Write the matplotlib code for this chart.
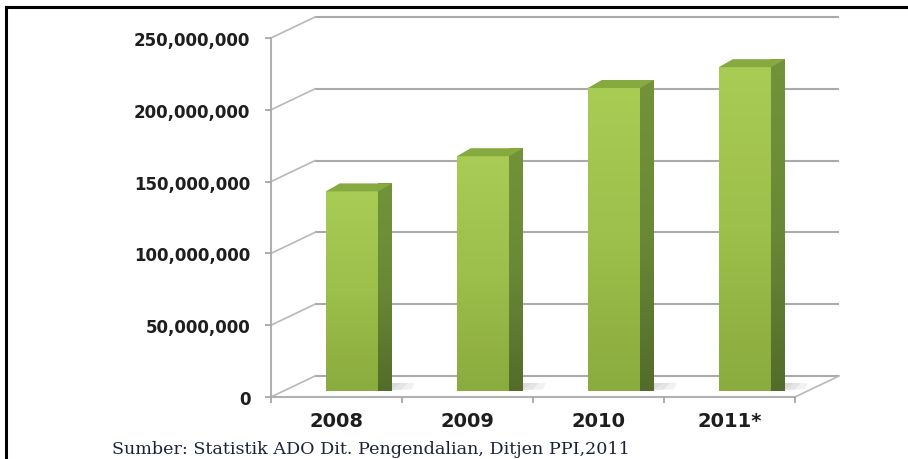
import numpy as np
import matplotlib.pyplot as plt
from matplotlib.patches import Polygon
from matplotlib.lines import Line2D
from matplotlib.colors import LinearSegmentedColormap

# data
years = ['2008', '2009', '2010', '2011*']
ado = [139.0e6, 163.5e6, 211.0e6, 225.5e6]
yticks = [0, 50e6, 100e6, 150e6, 200e6, 250e6]
ylabels = ['0', '50,000,000', '100,000,000', '150,000,000', '200,000,000', '250,000,000']
source = 'Sumber: Statistik ADO Dit. Pengendalian, Ditjen PPI,2011'

W, H = 908, 460
fig = plt.figure(figsize=(W / 100, H / 100), dpi=100)
AX_W, AX_H = 524, 359
ax = fig.add_axes([271 / W, 1 - 398 / H, AX_W / W, AX_H / H])
ax.set_xlim(-0.5, len(years) - 0.5)
ax.set_ylim(0, 250e6)


def px(dx, dy):
    # pixel offset -> data offset
    xl, yl = ax.get_xlim(), ax.get_ylim()
    return dx * (xl[1] - xl[0]) / AX_W, dy * (yl[1] - yl[0]) / AX_H


x_lo, x_hi = ax.get_xlim()
wall = px(44, 21)
grid_c = '#aaaaaa'
for v in yticks:
    # back wall
    ax.plot([x_lo + wall[0], x_hi + wall[0]], [v + wall[1]] * 2, color=grid_c,
            lw=1.5, clip_on=False, zorder=1, solid_capstyle='butt')
    # side wall
    ax.plot([x_lo, x_lo + wall[0]], [v, v + wall[1]], color='#b8b8b8',
            lw=1.2, clip_on=False, zorder=1)
# floor right edge
ax.plot([x_hi, x_hi + wall[0]], [0, wall[1]], color='#b8b8b8', lw=1.2,
        clip_on=False, zorder=1)

front_cm = LinearSegmentedColormap.from_list('f', ['#8aab3e', '#9dbf4b', '#a9cc55'])
side_cm = LinearSegmentedColormap.from_list('s', ['#536c2b', '#6a8936', '#729339'])
grad = np.linspace(0, 1, 128).reshape(-1, 1)

bw = 0.4
shift = px(15.5, 6)
depth = px(14, 8)
for i, v in enumerate(ado):
    x0 = i - bw / 2 + shift[0]
    x1 = x0 + bw
    y0 = shift[1]
    y1 = v + shift[1]
    # soft floor shadow
    for k, a in [(1.0, 0.25), (0.7, 0.3), (0.4, 0.35)]:
        sh = Polygon([(x1, y0), (x1 + depth[0] * 2.4 * k, y0 + depth[1] * 0.2),
                      (x1 + depth[0] * (1 + 1.6 * k), y0 + depth[1]), (x1, y0 + depth[1])],
                     closed=True, facecolor='#c8c8c8', edgecolor='none', alpha=a,
                     zorder=2, clip_on=False)
        ax.add_patch(sh)
    front = Polygon([(x0, y0), (x1, y0), (x1, y1), (x0, y1)], closed=True,
                    facecolor='none', edgecolor='none', clip_on=False)
    ax.add_patch(front)
    im = ax.imshow(grad, cmap=front_cm, extent=(x0, x1, y0, y1), origin='lower',
                   aspect='auto', zorder=3, clip_on=False)
    im.set_clip_path(front)
    side = Polygon([(x1, y0), (x1 + depth[0], y0 + depth[1]),
                    (x1 + depth[0], y1 + depth[1]), (x1, y1)], closed=True,
                   facecolor='none', edgecolor='none', clip_on=False)
    ax.add_patch(side)
    im2 = ax.imshow(grad, cmap=side_cm, extent=(x1, x1 + depth[0], y0, y1 + depth[1]),
                    origin='lower', aspect='auto', zorder=3, clip_on=False)
    im2.set_clip_path(side)
    top = Polygon([(x0, y1), (x1, y1), (x1 + depth[0], y1 + depth[1]),
                   (x0 + depth[0], y1 + depth[1])], closed=True,
                  facecolor='#86aa40', edgecolor='none', zorder=3, clip_on=False)
    ax.add_patch(top)

ax.set_xlim(x_lo, x_hi)
ax.set_ylim(0, 250e6)

# axes / ticks
for s in ['top', 'right']:
    ax.spines[s].set_visible(False)
for s in ['left', 'bottom']:
    ax.spines[s].set_color('#b0b0b0')
    ax.spines[s].set_linewidth(1.5)
    ax.spines[s].set_zorder(1)

ax.set_yticks(yticks)
ax.set_yticklabels(ylabels, fontsize=12, fontweight='bold', color='#1e1e1e')
ax.tick_params(axis='y', length=4.3, width=1.2, color='#a0a0a0', pad=10.5)

ax.set_xticks(np.arange(len(years) + 1) - 0.5)
ax.set_xticklabels([])
ax.tick_params(axis='x', which='major', length=4.3, width=1.2, color='#a0a0a0')
ax.set_xticks(np.arange(len(years)), minor=True)
ax.set_xticklabels(years, minor=True, fontsize=14, fontweight='bold', color='#1e1e1e')
ax.tick_params(axis='x', which='minor', length=0, pad=10)
ax.patch.set_visible(False)

fig.text(112 / W, 1 - 450 / H, source, fontsize=12.6, family='DejaVu Serif',
         color='#1c2238', va='center', ha='left')

# outer frame
fig.add_artist(Line2D([6 / W, 6 / W], [0, 1 - 8 / H], color='black', lw=2.2,
                      transform=fig.transFigure))
fig.add_artist(Line2D([6 / W, 1], [1 - 8 / H, 1 - 8 / H], color='black', lw=2.2,
                      transform=fig.transFigure))

fig.savefig('out.png', dpi=100)
